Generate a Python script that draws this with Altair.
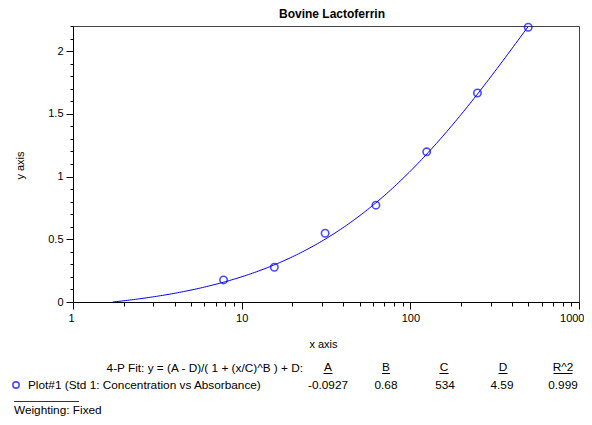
import altair as alt
import pandas as pd
import numpy as np

# ---- data ----
conc = [7.8125, 15.625, 31.25, 62.5, 125, 250, 500]
absorb = [0.176, 0.277, 0.548, 0.772, 1.197, 1.666, 2.19]

fit_names = ["A", "B", "C", "D", "R^2"]
fit_labels = ["-0.0927", "0.68", "534", "4.59", "0.999"]
fit_params = [-0.0927, 0.68, 534, 4.59]

x_ticks = [1, 2, 3, 4, 5, 6, 7, 8, 9,
           10, 20, 30, 40, 50, 60, 70, 80, 90,
           100, 200, 300, 400, 500, 600, 700, 800, 900, 1000]
x_major = [1, 10, 100, 1000]
y_ticks = [0, 0.1, 0.2, 0.3, 0.4, 0.5, 0.6, 0.7, 0.8, 0.9, 1.0,
           1.1, 1.2, 1.3, 1.4, 1.5, 1.6, 1.7, 1.8, 1.9, 2.0, 2.1, 2.2]
y_major = [0, 0.5, 1, 1.5, 2]

# fitted 4-P logistic curve from the displayed parameters
A, B, C, D = fit_params
x_start = C * (-A / D) ** (1 / B)
xs = np.logspace(np.log10(x_start), np.log10(max(conc)), 200)
ys = (A - D) / (1 + (xs / C) ** B) + D

pts = pd.DataFrame({"x": conc, "y": absorb})
curve = pd.DataFrame({"x": xs, "y": ys})

FONT = "Liberation Sans"
BLUE = "#0000ff"
LEG = 11.8

xmaj = "indexof(" + str(x_major) + ", datum.value) >= 0"
ymaj = "indexof(" + str(y_major) + ", datum.value) >= 0"

x_scale = alt.Scale(type="log", domain=[1, 1000], nice=False)
y_scale = alt.Scale(domain=[0, 2.2], nice=False, zero=True)

x_axis = alt.Axis(
    values=x_ticks, title="x axis", format="d",
    labelExpr=xmaj + " ? datum.label : ''",
    tickSize={"condition": {"test": xmaj, "value": 7}, "value": 4},
    labelPadding=3, grid=False, labelFlush=True, labelFlushOffset=5,
    labelOverlap=False,
    titleX=250, titleY=42, titleBaseline="middle",
)
y_axis = alt.Axis(
    values=y_ticks, title="y axis",
    labelExpr=ymaj + " ? format(datum.value, '~g') : ''",
    tickSize={"condition": {"test": ymaj, "value": 7}, "value": 3},
    labelPadding=3, grid=False, labelFlush=False, labelOverlap=False,
    titleX=-53, titleY=139, titleBaseline="middle", titleAlign="center",
)

line = alt.Chart(curve).mark_line(color=BLUE, strokeWidth=1).encode(
    x=alt.X("x:Q", scale=x_scale, axis=x_axis),
    y=alt.Y("y:Q", scale=y_scale, axis=y_axis),
)
points = alt.Chart(pts).mark_point(
    shape="circle", filled=False, color=BLUE, size=55, strokeWidth=1.6
).encode(
    x=alt.X("x:Q", scale=x_scale, axis=x_axis),
    y=alt.Y("y:Q", scale=y_scale, axis=y_axis),
)

layers = [line, points]

def txt(s, x, y, align="left", size=LEG, weight="normal", baseline="middle"):
    return alt.Chart(pd.DataFrame({"t": [s]})).mark_text(
        font=FONT, fontSize=size, fontWeight=weight, color="black",
        align=align, baseline=baseline
    ).encode(text="t:N", x=alt.value(x), y=alt.value(y))

def rule(x1, x2, y, color="black"):
    return alt.Chart(pd.DataFrame({"t": [0]})).mark_rule(
        color=color, strokeWidth=1
    ).encode(x=alt.value(x1), x2=alt.value(x2), y=alt.value(y))

# title
layers.append(txt("Bovine Lactoferrin", 259, -8, align="center", size=12,
                  weight="bold", baseline="alphabetic"))

# legend / fit table
layers.append(txt("4-P Fit: y = (A - D)/( 1 + (x/C)^B ) + D:", 230, 342, align="right"))
head_x = [255, 313, 371, 430, 490]
val_x = [255, 313, 372, 429, 490]
under_w = [9, 8, 9, 9, 19]
for name, lab, hx, vx, w in zip(fit_names, fit_labels, head_x, val_x, under_w):
    layers.append(txt(name, hx, 341, align="center"))
    layers.append(rule(hx - w / 2, hx + w / 2, 347.5))
    layers.append(txt(lab, vx, 359, align="center"))

layers.append(
    alt.Chart(pd.DataFrame({"t": [0]})).mark_point(
        shape="circle", filled=False, color=BLUE, size=40, strokeWidth=1.6
    ).encode(x=alt.value(-57), y=alt.value(359))
)
layers.append(txt("Plot#1 (Std 1: Concentration vs Absorbance)", -45, 359))
layers.append(rule(-59, 6, 375.5, color="#333"))
layers.append(txt("Weighting: Fixed", -59, 387.5, baseline="alphabetic"))

chart = alt.layer(*layers).properties(
    width=506, height=276,
    background="white",
    autosize=alt.AutoSizeParams(type="none"),
    padding={"left": 65, "top": 18, "right": 5, "bottom": 115},
).configure_view(stroke="#444", strokeWidth=1).configure_axis(
    labelFont=FONT, labelFontSize=11, labelColor="black",
    titleFont=FONT, titleFontSize=11, titleFontWeight="normal", titleColor="black",
    domainColor="black", tickColor="black", domainWidth=1, tickWidth=1,
    labelOverlap=False,
)

chart.save("out.html", embed_options={"renderer": "svg", "actions": False})
